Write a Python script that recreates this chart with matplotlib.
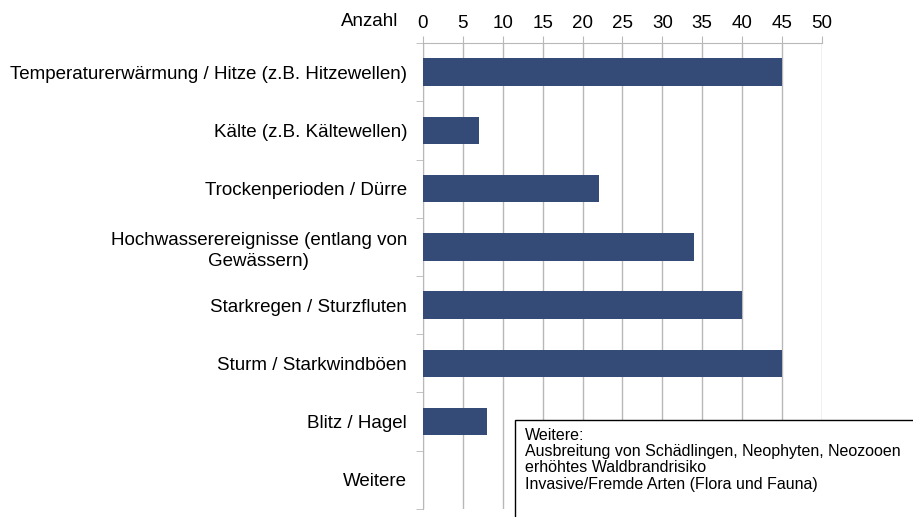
import matplotlib.pyplot as plt
from matplotlib.patches import Rectangle
import numpy as np

plt.rcParams['font.family'] = ['Liberation Sans', 'DejaVu Sans']

# Data
categories = [
    "Temperaturerwärmung / Hitze (z.B. Hitzewellen)",
    "Kälte (z.B. Kältewellen)",
    "Trockenperioden / Dürre",
    "Hochwasserereignisse (entlang von\nGewässern)",
    "Starkregen / Sturzfluten",
    "Sturm / Starkwindböen",
    "Blitz / Hagel",
    "Weitere",
]
counts = [45, 7, 22, 34, 40, 45, 8, 0]
x_ticks = [0, 5, 10, 15, 20, 25, 30, 35, 40, 45, 50]
note_lines = [
    "Weitere:",
    "Ausbreitung von Schädlingen, Neophyten, Neozooen",
    "erhöhtes Waldbrandrisiko",
    "Invasive/Fremde Arten (Flora und Fauna)",
]

bar_color = "#344b78"
grid_color = "#b8b8b8"
fs = 13.5

fig = plt.figure(figsize=(9.13, 5.17), dpi=100)
ax = fig.add_axes([0.4633, 0.0155, 0.437, 0.9013])

y = np.arange(len(categories))
ax.barh(y, counts, height=0.47, color=bar_color, zorder=3)

ax.set_ylim(len(categories) - 0.5, -0.5)
ax.set_xlim(0, 50)

# x axis on top
ax.xaxis.tick_top()
ax.set_xticks(x_ticks)
ax.set_xticklabels([str(t) for t in x_ticks], fontsize=fs)
ax.tick_params(axis='x', length=5, color=grid_color, pad=3)
ax.grid(axis='x', color=grid_color, linewidth=1, zorder=0)

# category labels with boundary ticks
ax.set_yticks(y)
ax.set_yticklabels(categories, fontsize=fs, ha='right', linespacing=1.35)
ax.tick_params(axis='y', length=0, pad=11.5)
ax.set_yticks(np.arange(len(categories) + 1) - 0.5, minor=True)
ax.tick_params(axis='y', which='minor', length=5, color=grid_color)
for lbl in ax.get_yticklabels():
    lbl.set_multialignment('center')

for side in ['right', 'bottom']:
    ax.spines[side].set_visible(False)
for side in ['top', 'left']:
    ax.spines[side].set_color(grid_color)

fig.text(398 / 913, 1 - 21 / 517, "Anzahl", fontsize=fs, ha='right', va='center')

# note box in the lower right, running off the figure edge
box = Rectangle((515 / 913, -0.05), 0.5, (1 - 420 / 517) + 0.05,
                transform=fig.transFigure, facecolor='white',
                edgecolor='black', linewidth=1, zorder=10)
fig.add_artist(box)
fig.text(525 / 913, 1 - 428 / 517, "\n".join(note_lines), fontsize=11.5,
         ha='left', va='top', linespacing=1.1, zorder=11)

fig.savefig("out.png", dpi=100)
